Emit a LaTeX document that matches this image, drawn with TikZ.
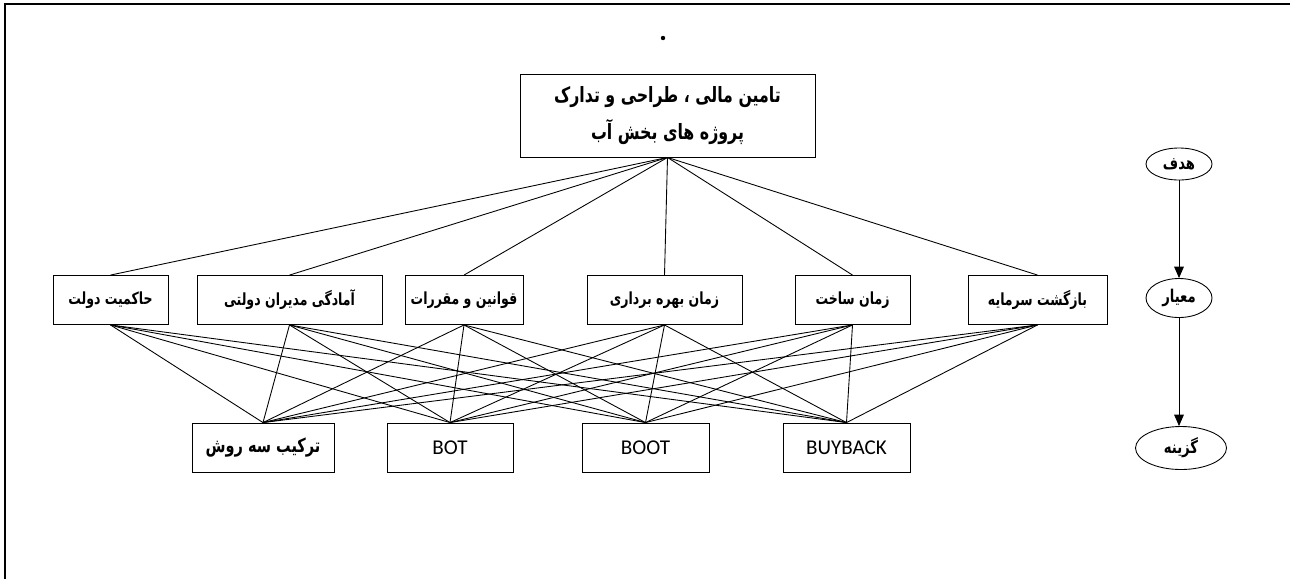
\documentclass[tikz,border=0pt]{standalone}
\usepackage{fontspec}
\setmainfont{Carlito}
\newfontfamily\arabicfont[Script=Arabic,FakeStretch=0.75]{DejaVu Sans}
\TeXXeTstate=1
\usetikzlibrary{shapes.geometric,arrows.meta}
\newcommand{\fa}[1]{{\arabicfont\bfseries\beginR #1\endR}}
\begin{document}
\begin{tikzpicture}[x=0.02cm,y=-0.02cm,line width=0.5pt,
  box/.style={draw,rectangle,inner sep=0pt,minimum height=49*0.02cm,font=\fontsize{9.5}{11}\selectfont},
  alt/.style={box,font=\fontsize{12}{14}\selectfont},
  level/.style={draw,ellipse,inner sep=0pt,font=\fontsize{10}{12}\selectfont}]
\useasboundingbox (0,0) rectangle (1290,579);
% frame
\draw[line width=1.2pt] (5,579) -- (5,4) -- (1290,4);
\fill (663,38) circle (2.2);
% goal
\node[draw,rectangle,inner sep=0pt,minimum width=295*0.02cm,minimum height=83*0.02cm,
  align=center,font=\fontsize{12}{21}\selectfont] (top) at (667.5,115.5)
  {\fa{تامین مالی ، طراحی و تدارک}\\\fa{پروژه های بخش آب}};
% criteria
\node[box,minimum width=115*0.02cm] (c1) at (110.5,300) {\fa{حاکمیت دولت}};
\node[box,minimum width=185*0.02cm] (c2) at (289.5,300) {\fa{آمادگی مدیران دولتی}};
\node[box,minimum width=118*0.02cm] (c3) at (464,300) {\fa{قوانین و مقررات}};
\node[box,minimum width=155*0.02cm] (c4) at (664.5,300) {\fa{زمان بهره برداری}};
\node[box,minimum width=115*0.02cm] (c5) at (852.5,300) {\fa{زمان ساخت}};
\node[box,minimum width=139*0.02cm] (c6) at (1037.5,300) {\fa{بازگشت سرمایه}};
% alternatives
\node[box,minimum width=142*0.02cm,font=\fontsize{11}{13}\selectfont] (a1) at (263,447.5) {\fa{ترکیب سه روش}};
\node[alt,minimum width=126*0.02cm] (a2) at (450,447.5) {BOT};
\node[alt,minimum width=127*0.02cm] (a3) at (645.5,447.5) {BOOT};
\node[alt,minimum width=127*0.02cm] (a4) at (846.5,447.5) {BUYBACK};
% links
\foreach \c in {c1,c2,c3,c4,c5,c6}{
  \draw (top.south) -- (\c.north);
  \foreach \a in {a1,a2,a3,a4}
    \draw (\c.south) -- (\a.north);
}
% levels
\node[level,minimum width=66*0.02cm,minimum height=32*0.02cm] (goal) at (1179,164) {\fa{هدف}};
\node[level,minimum width=66*0.02cm,minimum height=39*0.02cm] (crit) at (1179,298) {\fa{معیار}};
\node[level,minimum width=91*0.02cm,minimum height=43*0.02cm] (opt) at (1181,448) {\fa{گزینه}};
\draw[-{Triangle[length=6.5pt,width=5.5pt]}] (goal) -- (crit);
\draw[-{Triangle[length=6.5pt,width=5.5pt]}] (crit.south) -- (crit.south |- opt.north);
\end{tikzpicture}
\end{document}
